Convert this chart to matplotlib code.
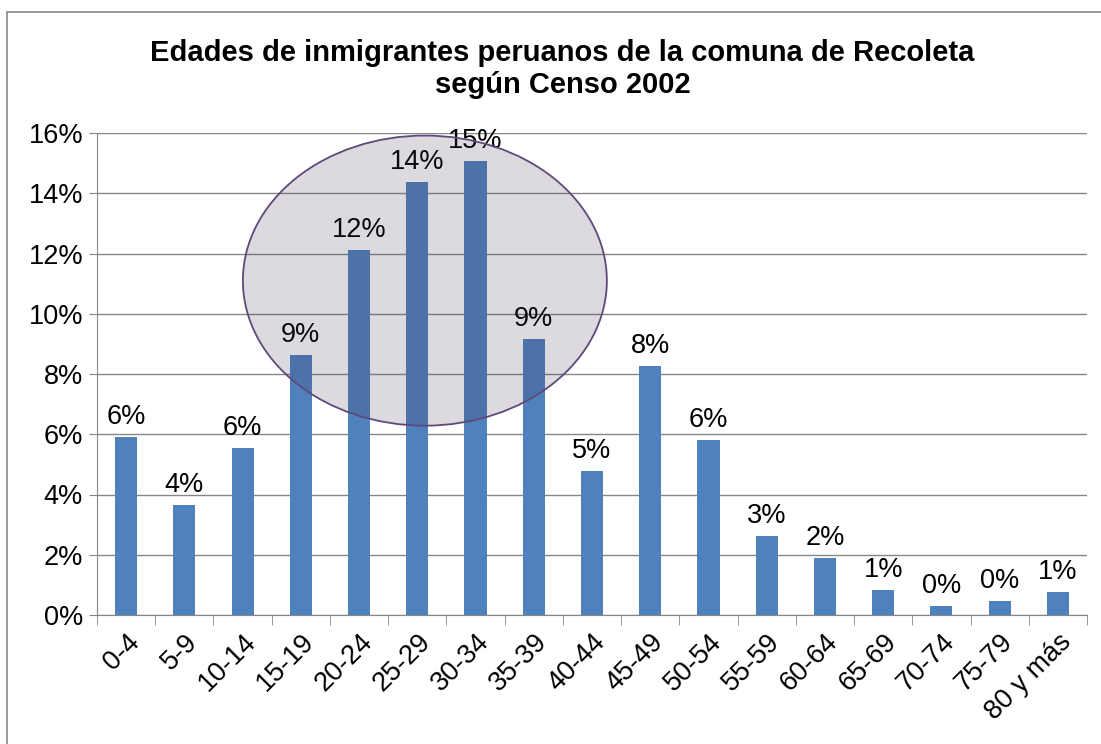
import matplotlib
matplotlib.use("Agg")
import matplotlib.pyplot as plt
from matplotlib.patches import Ellipse, Rectangle
import numpy as np

plt.rcParams["font.family"] = ["Liberation Sans", "DejaVu Sans"]

age_groups = ["0-4", "5-9", "10-14", "15-19", "20-24", "25-29", "30-34", "35-39",
              "40-44", "45-49", "50-54", "55-59", "60-64", "65-69", "70-74", "75-79",
              "80 y más"]
shares = [5.9, 3.65, 5.55, 8.64, 12.13, 14.39, 15.08, 9.17,
          4.78, 8.27, 5.81, 2.62, 1.89, 0.83, 0.30, 0.47, 0.76]

BAR = "#4F81BD"
GRID = "#868686"

fig = plt.figure(figsize=(11.01, 7.44), dpi=100)
ax = fig.add_axes([97 / 1101, 1 - 615 / 744, (1087 - 97) / 1101, (615 - 133) / 744])

x = np.arange(len(age_groups))
bars = ax.bar(x, shares, width=0.38, color=BAR, zorder=3)

for b, v in zip(bars, shares):
    ax.annotate(f"{v:.0f}%", xy=(b.get_x() + b.get_width() / 2, v),
                xytext=(0, 5), textcoords="offset points",
                ha="center", va="bottom", fontsize=19.5, zorder=4)

# highlight of the peak ages
ax.add_patch(Ellipse((5.13, 11.1), 6.25, 9.63, facecolor=(0.25, 0.19, 0.32, 0.18),
                     edgecolor="#5F497A", linewidth=1.3, zorder=5))

ax.set_xlim(-0.5, len(age_groups) - 0.5)
ax.set_ylim(0, 16)
ax.set_yticks(range(0, 17, 2))
ax.set_yticklabels([f"{t}%" for t in range(0, 17, 2)], fontsize=19.5)
ax.set_xticks(x)
ax.set_xticklabels(age_groups, rotation=45, ha="right", rotation_mode="anchor", fontsize=19.5)
ax.tick_params(axis="x", length=0, pad=10)
ax.set_xticks(np.arange(-0.5, len(age_groups)), minor=True)
ax.tick_params(axis="x", which="minor", length=7, color=GRID)
ax.tick_params(axis="y", length=6, color=GRID, pad=4)

ax.grid(axis="y", color=GRID, linewidth=1, zorder=0)
for s in ["top", "right"]:
    ax.spines[s].set_visible(False)
for s in ["left", "bottom"]:
    ax.spines[s].set_color(GRID)

fig.text(0.511, 1 - 69 / 744, "Edades de inmigrantes peruanos de la comuna de Recoleta\nsegún Censo 2002",
         ha="center", va="center", fontsize=21, fontweight="bold", linespacing=1.2)

# outer chart frame
fig.patches.append(Rectangle((7 / 1101, -0.1), 1.1, 1.1 - 12 / 744, transform=fig.transFigure,
                             fill=False, edgecolor="#888888", linewidth=1.2))

fig.savefig("out.png", dpi=100)
